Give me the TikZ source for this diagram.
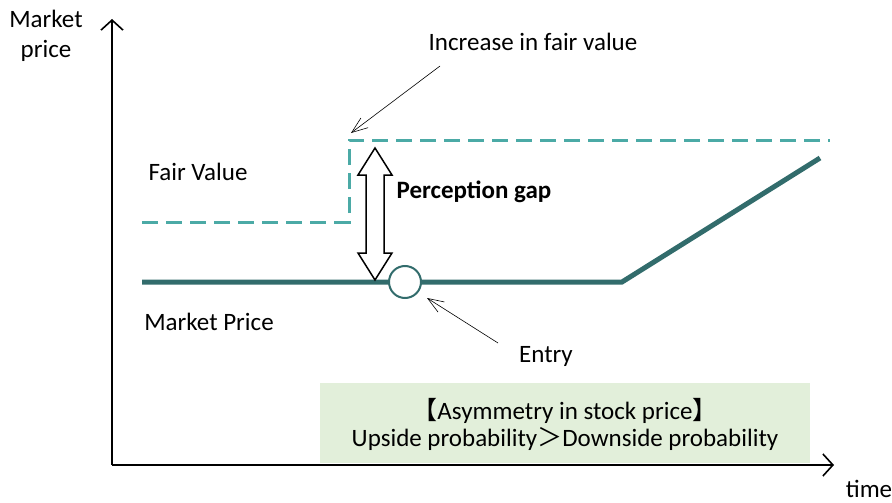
\documentclass[tikz,border=0pt]{standalone}
\usepackage{fontspec}
\setmainfont{Carlito}
\newfontfamily\cjkfont{Noto Sans CJK JP}
\usetikzlibrary{arrows.meta}
\definecolor{fairteal}{RGB}{75,170,166}
\definecolor{priceteal}{RGB}{50,108,108}
\definecolor{boxgreen}{RGB}{226,239,218}
\tikzset{
  lbl/.style={font=\fontsize{25}{30}\selectfont, inner sep=0pt},
  axis/.style={line width=1.6pt, -{Straight Barb[length=10pt,width=22pt,line width=1.6pt]}},
  pointer/.style={line width=0.6pt, -{Straight Barb[length=16pt,width=12pt,line width=0.6pt]}},
  fairline/.style={fairteal, line width=3pt, dash pattern=on 16pt off 8pt},
  priceline/.style={priceteal, line width=5pt},
}
\begin{document}
\begin{tikzpicture}[x=1pt,y=-1pt]
\useasboundingbox (0,0) rectangle (892,503);

% axes
\coordinate (origin) at (112,465);
\coordinate (ytop) at (112,19);
\coordinate (xend) at (834,465);
\draw[axis] (origin) -- (ytop);
\draw[axis] (origin) -- (xend);
\node[lbl, align=center] (ylab) at (46,36) {Market\\price};
\node[lbl] (xlab) at (869,489) {time};

% summary box
\node[fill=boxgreen, minimum width=490pt, minimum height=80pt, inner sep=0pt] (box) at (565,423) {};
\node[lbl, align=center, font=\fontsize{25}{27}\selectfont] (boxtxt) at (565,424)
  {{\cjkfont 【}Asymmetry in stock price{\cjkfont 】}\\Upside probability{\cjkfont ＞}Downside probability};

% fair value (dashed)
\coordinate (fv0) at (142,222);
\coordinate (fv1) at (349,222);
\coordinate (fv2) at (349,140);
\coordinate (fv3) at (830,140);
\draw[fairline] (fv0) -- (fv1) -- (fv2) -- (fv3);

% market price (solid)
\coordinate (mp0) at (142,282);
\coordinate (mp1) at (622,282);
\coordinate (mp2) at (820,158);
\draw[priceline] (mp0) -- (mp1) -- (mp2);

% entry marker
\node[circle, draw=priceteal, line width=2pt, fill=white, minimum size=32pt, inner sep=0pt] (entry) at (405,282) {};

% perception gap double arrow
\draw[line width=1.5pt, fill=white, line join=miter]
  (375,148) -- (392,175) -- (384,175) -- (384,253) -- (392,253) -- (375,280)
  -- (358,253) -- (366,253) -- (366,175) -- (358,175) -- cycle;
\node[lbl, font=\fontsize{25}{30}\selectfont\bfseries] (gap) at (474,192) {Perception gap};

% labels
\node[lbl] (fvlab) at (198,172) {Fair Value};
\node[lbl] (mplab) at (209,322) {Market Price};
\node[lbl] (inc) at (533,42) {Increase in fair value};
\node[lbl] (entlab) at (546,356) {Entry};

% pointers
\coordinate (incfrom) at (440,66);
\coordinate (incto) at (351,133);
\draw[pointer] (incfrom) -- (incto);
\coordinate (entfrom) at (498,343);
\coordinate (entto) at (427,298);
\draw[pointer] (entfrom) -- (entto);
\end{tikzpicture}
\end{document}
